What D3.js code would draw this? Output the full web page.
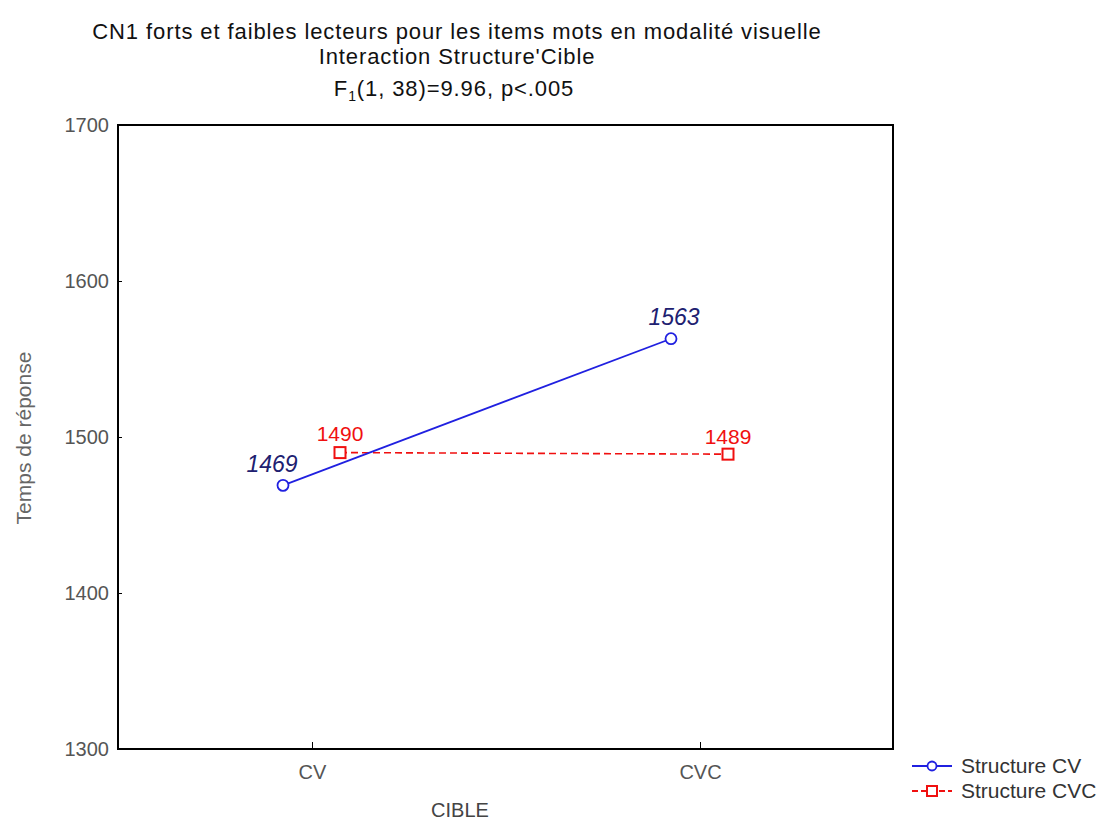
<!DOCTYPE html>
<html><head><meta charset="utf-8">
<script src="https://cdn.jsdelivr.net/npm/d3@7"></script>
<style>body{margin:0;background:#fff;} svg{display:block;font-family:"Liberation Sans",Arial,sans-serif;}</style>
</head><body>
<script>
const categories = ["CV", "CVC"];
const seriesNames = ["Structure CV", "Structure CVC"];
const valuesCV = [1469, 1563];
const valuesCVC = [1490, 1489];
const yTicks = [1300, 1400, 1500, 1600, 1700];
const titleLines = ["CN1 forts et faibles lecteurs pour les items mots en modalité visuelle", "Interaction Structure'Cible"];

const W = 1117, H = 825;
const svg = d3.select("body").append("svg").attr("width", W).attr("height", H);
const L = 118, R = 893, T = 125, B = 749;
const x = d3.scalePoint().domain(categories).range([312, 700]);
const y = d3.scaleLinear().domain([1300, 1700]).range([B, T]);

// title
svg.append("text").attr("x", 457).attr("y", 39).attr("text-anchor", "middle").attr("font-size", 22).attr("letter-spacing", 0.9).attr("fill", "#111").text(titleLines[0]);
svg.append("text").attr("x", 457).attr("y", 64).attr("text-anchor", "middle").attr("font-size", 22).attr("letter-spacing", 0.9).attr("fill", "#111").text(titleLines[1]);
const t3 = svg.append("text").attr("x", 454).attr("y", 96).attr("text-anchor", "middle").attr("font-size", 22).attr("letter-spacing", 0.9).attr("fill", "#111");
t3.append("tspan").text("F");
t3.append("tspan").attr("font-size", 14).attr("dy", 5).text("1");
t3.append("tspan").attr("dy", -5).text("(1, 38)=9.96, p<.005");

// y axis
const yAxis = svg.append("g").attr("transform", `translate(${L},0)`)
  .call(d3.axisLeft(y).tickValues(yTicks).tickSize(-4).tickPadding(9).tickFormat(d3.format("d")));
yAxis.select(".domain").remove();
yAxis.selectAll("text").attr("font-size", 20).attr("fill", "#555").attr("font-family", "Liberation Sans, Arial, sans-serif");
yAxis.selectAll("line").attr("stroke", "#000");

// x axis
const xAxis = svg.append("g").attr("transform", `translate(0,${B})`)
  .call(d3.axisBottom(x).tickSize(-7).tickPadding(16));
xAxis.select(".domain").remove();
xAxis.selectAll("text").attr("font-size", 20).attr("fill", "#555").attr("font-family", "Liberation Sans, Arial, sans-serif");
xAxis.selectAll("line").attr("stroke", "#000");

// frame
svg.append("rect").attr("x", L).attr("y", T).attr("width", R - L).attr("height", B - T)
  .attr("fill", "none").attr("stroke", "#000").attr("stroke-width", 2);

// axis titles
svg.append("text").attr("transform", "translate(31,438) rotate(-90)").attr("text-anchor", "middle")
  .attr("font-size", 21).attr("fill", "#666").text("Temps de réponse");
svg.append("text").attr("x", 460).attr("y", 817).attr("text-anchor", "middle").attr("font-size", 20).attr("fill", "#444").text("CIBLE");

// series
const off = [-29, 28];
const line = d3.line();
const ptsCV = categories.map((c, i) => [x(c) + off[0], y(valuesCV[i])]);
const ptsCVC = categories.map((c, i) => [x(c) + off[1], y(valuesCVC[i])]);

svg.append("path").attr("d", line(ptsCVC)).attr("fill", "none").attr("stroke", "#f01010").attr("stroke-width", 1.6).attr("stroke-dasharray", "7,4");
svg.append("path").attr("d", line(ptsCV)).attr("fill", "none").attr("stroke", "#2020e0").attr("stroke-width", 1.8);

ptsCV.forEach(p => svg.append("circle").attr("cx", p[0]).attr("cy", p[1]).attr("r", 5.5).attr("fill", "#fff").attr("stroke", "#2020e0").attr("stroke-width", 1.8));
ptsCVC.forEach(p => svg.append("rect").attr("x", p[0] - 5.5).attr("y", p[1] - 5.5).attr("width", 11).attr("height", 11).attr("fill", "#fff").attr("stroke", "#f01010").attr("stroke-width", 2));

// labels
ptsCV.forEach((p, i) => svg.append("text").attr("x", p[0] - (i === 0 ? 11 : -3)).attr("y", p[1] - (i === 0 ? 13 : 14))
  .attr("text-anchor", "middle").attr("font-size", 23).attr("font-style", "italic").attr("fill", "#202070").text(valuesCV[i]));
ptsCVC.forEach((p, i) => svg.append("text").attr("x", p[0]).attr("y", p[1] - (i === 0 ? 12 : 10))
  .attr("text-anchor", "middle").attr("font-size", 21).attr("fill", "#f01010").text(valuesCVC[i]));

// legend
const leg = [{n: seriesNames[0], c: "#2020e0", s: "circle", y: 766}, {n: seriesNames[1], c: "#f01010", s: "square", y: 791}];
leg.forEach(d => {
  svg.append("line").attr("x1", 912).attr("x2", 952).attr("y1", d.y).attr("y2", d.y).attr("stroke", d.c).attr("stroke-width", 1.8)
    .attr("stroke-dasharray", d.s === "square" ? "6,3" : null);
  if (d.s === "circle") svg.append("circle").attr("cx", 932).attr("cy", d.y).attr("r", 4.5).attr("fill", "#fff").attr("stroke", d.c).attr("stroke-width", 1.8);
  else svg.append("rect").attr("x", 927).attr("y", d.y - 5).attr("width", 10).attr("height", 10).attr("fill", "#fff").attr("stroke", d.c).attr("stroke-width", 2);
  svg.append("text").attr("x", 961).attr("y", d.y + 7).attr("font-size", 21).attr("fill", "#333").text(d.n);
});
</script>
</body></html>
